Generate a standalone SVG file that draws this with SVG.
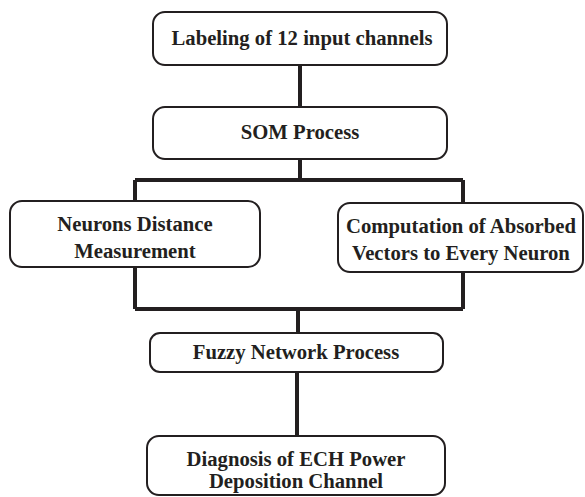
<svg xmlns="http://www.w3.org/2000/svg" width="585" height="497" viewBox="0 0 585 497">
<style>
.box{fill:#fff;stroke:#231f20;stroke-width:2}
.con{fill:none;stroke:#231f20;stroke-width:4}
text{font-family:"Liberation Serif","DejaVu Serif",serif;font-weight:bold;font-size:20.7px;fill:#231f20;text-anchor:middle}
</style>
<rect width="585" height="497" fill="#fff"/>
<g id="connectors">
<path class="con" d="M300 65V107M300 159V180M135 180H463M135 180V201M463 180V203"/>
<path class="con" d="M135 267V309M463 272V309M135 309H463M298 309V333M297 372V436"/>
</g>
<g id="n1"><rect class="box" x="153" y="12" width="294" height="53" rx="12"/><text x="302" y="45">Labeling of 12 input channels</text></g>
<g id="n2"><rect class="box" x="153" y="107" width="294" height="52" rx="12"/><text x="300" y="139">SOM Process</text></g>
<g id="n3"><rect class="box" x="10" y="201" width="250" height="66" rx="12"/><text x="135" y="231">Neurons Distance</text><text x="135" y="258">Measurement</text></g>
<g id="n4"><rect class="box" x="338" y="203" width="245" height="69" rx="12"/><text x="461" y="233">Computation of Absorbed</text><text x="461" y="260">Vectors to Every Neuron</text></g>
<g id="n5"><rect class="box" x="150" y="333" width="293" height="39" rx="10"/><text x="296" y="359">Fuzzy Network Process</text></g>
<g id="n6"><rect class="box" x="147" y="436" width="298" height="59" rx="12"/><text x="296" y="466">Diagnosis of ECH Power</text><text x="296" y="488">Deposition Channel</text></g>
</svg>
